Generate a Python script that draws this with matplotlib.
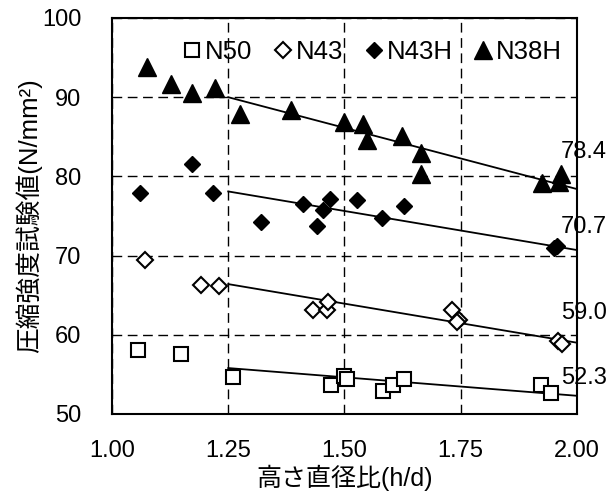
import matplotlib
matplotlib.use('Agg')
import matplotlib.pyplot as plt
from matplotlib.lines import Line2D

plt.rcParams['font.family'] = ['Liberation Sans', 'Noto Sans CJK JP', 'DejaVu Sans']

# data
n38h_x = [1.075, 1.127, 1.173, 1.222, 1.275, 1.386, 1.500, 1.539, 1.548, 1.623, 1.664, 1.664, 1.924, 1.962, 1.966]
n38h_y = [93.8, 91.7, 90.5, 91.2, 87.9, 88.4, 86.9, 86.6, 84.6, 85.1, 82.9, 80.3, 79.2, 79.3, 80.3]

n43h_x = [1.060, 1.173, 1.218, 1.320, 1.410, 1.440, 1.454, 1.469, 1.526, 1.580, 1.628, 1.950, 1.958]
n43h_y = [77.9, 81.6, 77.9, 74.2, 76.5, 73.7, 75.8, 77.2, 77.0, 74.7, 76.3, 71.0, 71.2]

n43_x = [1.070, 1.191, 1.230, 1.432, 1.462, 1.464, 1.732, 1.747, 1.741, 1.960, 1.967]
n43_y = [69.5, 66.3, 66.1, 63.1, 63.1, 64.1, 63.1, 61.9, 61.6, 59.2, 58.8]

n50_x = [1.055, 1.148, 1.260, 1.470, 1.498, 1.506, 1.582, 1.604, 1.627, 1.922, 1.944]
n50_y = [58.1, 57.6, 54.7, 53.6, 54.8, 54.4, 52.9, 53.6, 54.4, 53.6, 52.7]

# regression lines (from h/d = 1.25 to 2.00)
fit_x = [1.25, 2.00]
fit_start = [90.0, 78.1, 66.4, 55.8]
fit_end = [78.4, 70.7, 59.0, 52.3]
label_y = [83.1, 73.6, 62.8, 54.6]

fig = plt.figure(figsize=(6.11, 5.00), dpi=100)
ax = fig.add_axes([0.1833, 0.172, 0.761, 0.792])

ax.plot(n50_x, n50_y, ls='none', marker='s', ms=10.5, mfc='white', mec='black', mew=1.5, zorder=3)
ax.plot(n43_x, n43_y, ls='none', marker='D', ms=8, mfc='white', mec='black', mew=1.5, zorder=3)
ax.plot(n43h_x, n43h_y, ls='none', marker='D', ms=8.5, mfc='black', mec='black', mew=1.0, zorder=3)
ax.plot(n38h_x, n38h_y, ls='none', marker='^', ms=13.5, mfc='black', mec='black', mew=1.0, zorder=3)

for s, e, ly in zip(fit_start, fit_end, label_y):
    ax.plot(fit_x, [s, e], color='black', lw=1.3, zorder=2)
    ax.text(1.966, ly, f'{e:.1f}', fontsize=17, ha='left', va='center', clip_on=False)

ax.set_xlim(1.0, 2.0)
ax.set_ylim(50, 100)
ax.set_xticks([1.00, 1.25, 1.50, 1.75, 2.00])
ax.set_xticklabels(['1.00', '1.25', '1.50', '1.75', '2.00'])
ax.set_yticks([50, 60, 70, 80, 90, 100])
ax.tick_params(length=0, labelsize=17)
ax.tick_params(axis='y', pad=22)
ax.tick_params(axis='x', pad=19)
ax.grid(True, color='black', lw=1.0, linestyle=(0, (7, 4)))
ax.set_axisbelow(True)
for sp in ax.spines.values():
    sp.set_linewidth(1.5)

ax.set_xlabel('高さ直径比(h/d)', fontsize=18, labelpad=2)
ax.set_ylabel('圧縮強度試験値(N/mm²)', fontsize=18.5, labelpad=0)

handles = [
    Line2D([], [], ls='none', marker='s', ms=10.5, mfc='white', mec='black', mew=1.5),
    Line2D([], [], ls='none', marker='D', ms=8, mfc='white', mec='black', mew=1.5),
    Line2D([], [], ls='none', marker='D', ms=8.5, mfc='black', mec='black'),
    Line2D([], [], ls='none', marker='^', ms=13.5, mfc='black', mec='black'),
]
ax.legend(handles, ['N50', 'N43', 'N43H', 'N38H'], ncol=4, frameon=False,
          fontsize=18.5, loc='center', bbox_to_anchor=(0.556, 0.914),
          handletextpad=0.0, columnspacing=0.7, handlelength=1.0,
          borderpad=0, borderaxespad=0)

fig.savefig('out.png', dpi=100)
